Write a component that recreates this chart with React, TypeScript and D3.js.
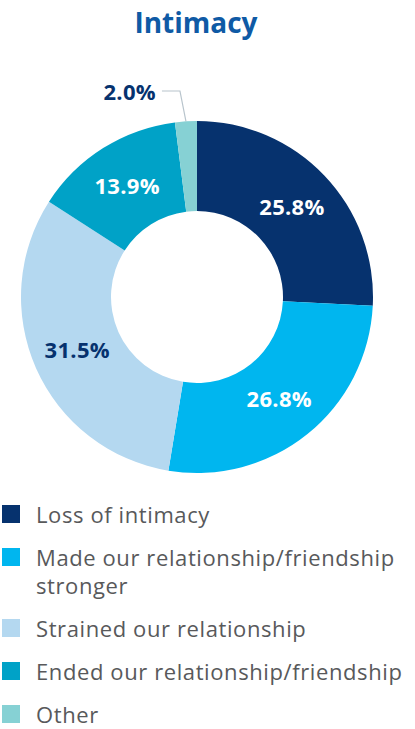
import React from "react";
import { pie, arc, PieArcDatum } from "d3";

const categories = [
  "Loss of intimacy",
  "Made our relationship/friendship stronger",
  "Strained our relationship",
  "Ended our relationship/friendship",
  "Other",
];
const values = [25.8, 26.8, 31.5, 13.9, 2.0];
const legendLines = [
  ["Loss of intimacy"],
  ["Made our relationship/friendship", "stronger"],
  ["Strained our relationship"],
  ["Ended our relationship/friendship"],
  ["Other"],
];
const colors = ["#06326e", "#00b6ef", "#b4d8f0", "#00a2c7", "#86d1d4"];
const labelColors = ["#ffffff", "#ffffff", "#06326e", "#ffffff", "#06326e"];

interface Row {
  name: string;
  value: number;
}

const WIDTH = 415;
const HEIGHT = 729;
const CX = 197;
const CY = 297;
const OUTER = 176;
const INNER = 86;
const FONT = "'Open Sans', Lato, sans-serif";

const App = () => {
  const rows: Row[] = categories.map((name, i) => ({ name, value: values[i] }));
  const slices = pie<Row>()
    .sort(null)
    .value((d) => d.value)(rows);
  const arcGen = arc<PieArcDatum<Row>>().innerRadius(INNER).outerRadius(OUTER);
  const outerPoint = arc<PieArcDatum<Row>>().innerRadius(OUTER).outerRadius(OUTER);

  // legend row tops
  let y = 505;
  const legendRows = legendLines.map((lines, i) => {
    const top = y;
    y += 43 + (lines.length - 1) * 28;
    return { lines, top, i };
  });

  return (
    <svg
      width={WIDTH}
      height={HEIGHT}
      style={{ position: "absolute", left: 0, top: 0 }}
      fontFamily={FONT}
    >
      <text x={196} y={33} textAnchor="middle" fontSize={28} fontWeight={700} fill="#0f5aa5">
        Intimacy
      </text>
      <g transform={`translate(${CX}, ${CY})`}>
        {slices.map((s, i) => (
          <path key={i} d={arcGen(s) || ""} fill={colors[i]} />
        ))}
        {slices.map((s, i) => {
          if (i === slices.length - 1) {
            // small slice: outside label with leader line
            const [px, py] = outerPoint.centroid(s);
            return (
              <g key={"l" + i}>
                <polyline
                  points={`${px},${py} ${px - 6},${-206} ${px - 24},${-206}`}
                  fill="none"
                  stroke="#b8c4cc"
                  strokeWidth={1.2}
                />
                <text
                  x={px - 30}
                  y={-197}
                  textAnchor="end"
                  fontSize={22}
                  fontWeight={700}
                  letterSpacing={0.3}
                  fill={labelColors[i]}
                >
                  {s.data.value.toFixed(1)}%
                </text>
              </g>
            );
          }
          const [lx, ly] = arcGen.centroid(s);
          return (
            <text
              key={"l" + i}
              x={lx}
              y={ly}
              dy="0.36em"
              textAnchor="middle"
              fontSize={22}
              fontWeight={700}
              letterSpacing={0.3}
              fill={labelColors[i]}
            >
              {s.data.value.toFixed(1)}%
            </text>
          );
        })}
      </g>
      {legendRows.map(({ lines, top, i }) => (
        <g key={"lg" + i}>
          <rect x={2} y={top} width={18} height={18} fill={colors[i]} />
          <text fontSize={22} letterSpacing={0.6} fill="#58595b">
            {lines.map((t, j) => (
              <tspan key={j} x={36} y={top + 18 + j * 28}>
                {t}
              </tspan>
            ))}
          </text>
        </g>
      ))}
    </svg>
  );
};

export default App;
